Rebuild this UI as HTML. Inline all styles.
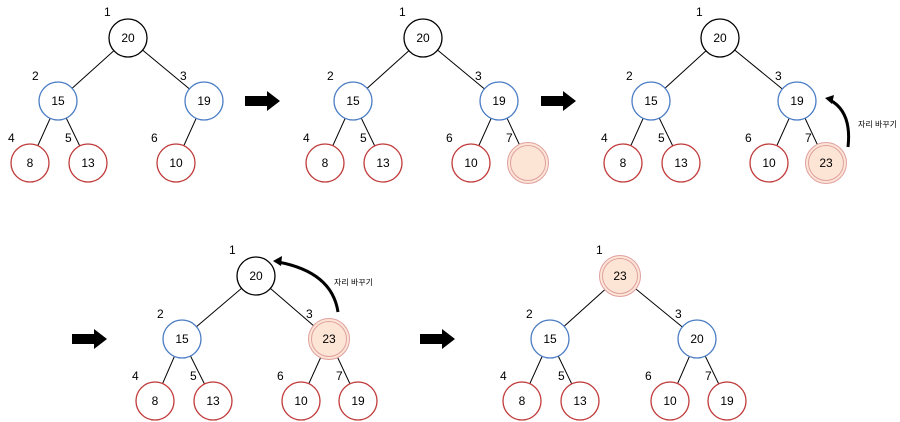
<!DOCTYPE html>
<html><head><meta charset="utf-8"><style>body{margin:0;background:#fff}svg{display:block}text{font-family:"Liberation Sans","Noto Sans CJK KR",sans-serif;fill:#000}</style></head><body>
<svg width="900" height="422" viewBox="0 0 900 422" xmlns="http://www.w3.org/2000/svg">
<defs>
<g id="arr"><polygon points="0,-5 22,-5 22,-10 35,0 22,10 22,5 0,5" fill="#000"/></g>
</defs>
<g stroke="#000" stroke-width="1">
<!-- tree1 -->
<line x1="128" y1="38" x2="58" y2="101"/><line x1="128" y1="38" x2="204" y2="101"/>
<line x1="58" y1="101" x2="30" y2="163"/><line x1="58" y1="101" x2="88" y2="163"/><line x1="204" y1="101" x2="176" y2="163"/>
<!-- tree2 -->
<line x1="423" y1="38" x2="353" y2="101"/><line x1="423" y1="38" x2="499" y2="101"/>
<line x1="353" y1="101" x2="325" y2="163"/><line x1="353" y1="101" x2="383" y2="163"/><line x1="499" y1="101" x2="471" y2="163"/><line x1="499" y1="101" x2="528" y2="163"/>
<!-- tree3 -->
<line x1="720" y1="38" x2="651" y2="101"/><line x1="720" y1="38" x2="797" y2="101"/>
<line x1="651" y1="101" x2="623" y2="163"/><line x1="651" y1="101" x2="681" y2="163"/><line x1="797" y1="101" x2="769" y2="163"/><line x1="797" y1="101" x2="826" y2="163"/>
<!-- tree4 -->
<line x1="256" y1="276" x2="182" y2="339"/><line x1="256" y1="276" x2="329" y2="339"/>
<line x1="182" y1="339" x2="155" y2="401"/><line x1="182" y1="339" x2="213" y2="401"/><line x1="329" y1="339" x2="301" y2="401"/><line x1="329" y1="339" x2="358" y2="401"/>
<!-- tree5 -->
<line x1="620" y1="276" x2="550" y2="339"/><line x1="620" y1="276" x2="697" y2="339"/>
<line x1="550" y1="339" x2="522" y2="401"/><line x1="550" y1="339" x2="580" y2="401"/><line x1="697" y1="339" x2="670" y2="401"/><line x1="697" y1="339" x2="727" y2="401"/>
</g>
<g font-size="12" text-anchor="middle">
<!-- black roots -->
<g fill="#fff" stroke="#000" stroke-width="1.3">
<circle cx="128" cy="38" r="19"/><circle cx="423" cy="38" r="19"/><circle cx="720" cy="38" r="19"/><circle cx="256" cy="276" r="19"/>
</g>
<g fill="#fff" stroke="#4a7cc4" stroke-width="1.3">
<circle cx="58" cy="101" r="19"/><circle cx="204" cy="101" r="19"/>
<circle cx="353" cy="101" r="19"/><circle cx="499" cy="101" r="19"/>
<circle cx="651" cy="101" r="19"/><circle cx="797" cy="101" r="19"/>
<circle cx="182" cy="339" r="19"/>
<circle cx="550" cy="339" r="19"/><circle cx="697" cy="339" r="19"/>
</g>
<g fill="#fff" stroke="#c03a3a" stroke-width="1.3">
<circle cx="30" cy="163" r="19"/><circle cx="88" cy="163" r="19"/><circle cx="176" cy="163" r="19"/>
<circle cx="325" cy="163" r="19"/><circle cx="383" cy="163" r="19"/><circle cx="471" cy="163" r="19"/>
<circle cx="623" cy="163" r="19"/><circle cx="681" cy="163" r="19"/><circle cx="769" cy="163" r="19"/>
<circle cx="155" cy="401" r="19"/><circle cx="213" cy="401" r="19"/><circle cx="301" cy="401" r="19"/><circle cx="358" cy="401" r="19"/>
<circle cx="522" cy="401" r="19"/><circle cx="580" cy="401" r="19"/><circle cx="670" cy="401" r="19"/><circle cx="727" cy="401" r="19"/>
</g>
<g fill="#fde5d6" stroke="#e0a0a0" stroke-width="1">
<circle cx="528" cy="163" r="20.5"/><circle cx="528" cy="163" r="17.5"/>
<circle cx="826" cy="163" r="20.5"/><circle cx="826" cy="163" r="17.5"/>
<circle cx="329" cy="339" r="20.5"/><circle cx="329" cy="339" r="17.5"/>
<circle cx="620" cy="276" r="20.5"/><circle cx="620" cy="276" r="17.5"/>
</g>
<g dominant-baseline="central">
<text x="128" y="38">20</text><text x="58" y="101">15</text><text x="204" y="101">19</text><text x="30" y="163">8</text><text x="88" y="163">13</text><text x="176" y="163">10</text>
<text x="423" y="38">20</text><text x="353" y="101">15</text><text x="499" y="101">19</text><text x="325" y="163">8</text><text x="383" y="163">13</text><text x="471" y="163">10</text>
<text x="720" y="38">20</text><text x="651" y="101">15</text><text x="797" y="101">19</text><text x="623" y="163">8</text><text x="681" y="163">13</text><text x="769" y="163">10</text><text x="826" y="163">23</text>
<text x="256" y="276">20</text><text x="182" y="339">15</text><text x="329" y="339">23</text><text x="155" y="401">8</text><text x="213" y="401">13</text><text x="301" y="401">10</text><text x="358" y="401">19</text>
<text x="620" y="276">23</text><text x="550" y="339">15</text><text x="697" y="339">20</text><text x="522" y="401">8</text><text x="580" y="401">13</text><text x="670" y="401">10</text><text x="727" y="401">19</text>
</g>
</g>
<g font-size="12">
<text x="104" y="16">1</text><text x="32" y="80">2</text><text x="180" y="80">3</text><text x="8" y="142">4</text><text x="65" y="142">5</text><text x="151" y="142">6</text>
<text x="399" y="16">1</text><text x="327" y="80">2</text><text x="475" y="80">3</text><text x="303" y="142">4</text><text x="360" y="142">5</text><text x="446" y="142">6</text><text x="506" y="142">7</text>
<text x="696" y="16">1</text><text x="626" y="80">2</text><text x="775" y="80">3</text><text x="601" y="142">4</text><text x="658" y="142">5</text><text x="745" y="142">6</text><text x="805" y="142">7</text>
<text x="229" y="254">1</text><text x="157" y="318">2</text><text x="306" y="318">3</text><text x="132" y="380">4</text><text x="190" y="380">5</text><text x="277" y="380">6</text><text x="336" y="380">7</text>
<text x="596" y="254">1</text><text x="526" y="318">2</text><text x="675" y="318">3</text><text x="500" y="380">4</text><text x="558" y="380">5</text><text x="645" y="380">6</text><text x="705" y="380">7</text>
</g>
<use href="#arr" x="245" y="101"/><use href="#arr" x="541" y="101"/><use href="#arr" x="72" y="339"/><use href="#arr" x="420" y="339"/>
<path d="M848 147 Q852 112 830 100" fill="none" stroke="#000" stroke-width="3"/>
<polygon points="825,98 834,95 832,104" fill="#000"/>
<path d="M338 312 Q332 272 278 262" fill="none" stroke="#000" stroke-width="3"/>
<polygon points="273,261 282,256 281,266" fill="#000"/>
<text x="858" y="127" font-size="8">자리 바꾸기</text>
<text x="334" y="285" font-size="8">자리 바꾸기</text>
</svg>
</body></html>
